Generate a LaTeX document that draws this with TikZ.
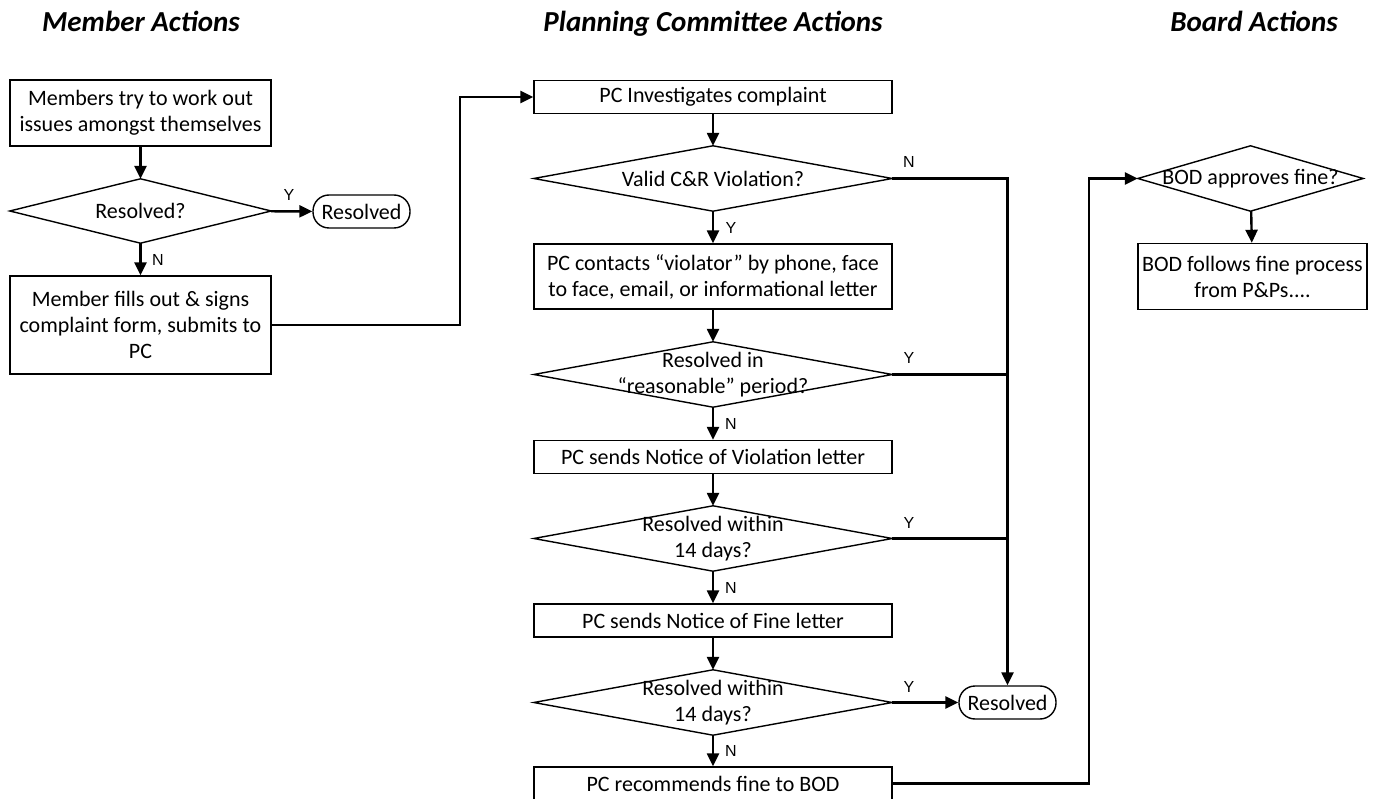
\documentclass[tikz,border=0pt]{standalone}
\usepackage{fontspec}
\setmainfont{Carlito}
\newfontfamily\labelfont{Liberation Sans}
\usetikzlibrary{arrows.meta}
\tikzset{
  box/.style={draw, line width=1.4pt, inner sep=2pt, align=center,
    font=\fontsize{22}{26}\selectfont},
  process/.style={box, minimum width=358pt, minimum height=33pt},
  decision/.style={inner sep=0pt, align=center, minimum width=358pt,
    minimum height=65pt, font=\fontsize{22}{26}\selectfont},
  terminal/.style={box, rounded corners=16pt, minimum width=97pt, minimum height=33pt},
  flow/.style={line width=2.4pt, -{Triangle[length=13pt,width=12pt]}},
  link/.style={line width=2.4pt},
  yn/.style={font=\labelfont\fontsize{16}{16}\selectfont},
  heading/.style={anchor=base, font=\fontsize{29}{31}\selectfont\bfseries\itshape}
}
\begin{document}
\begin{tikzpicture}[x=1pt,y=-1pt]
      \useasboundingbox (0,0) rectangle (1377,799);
      \node[heading] (hm) at (141,32) {Member Actions};
      \node[heading] (hp) at (713,32) {Planning Committee Actions};
      \node[heading] (hb) at (1254,32) {Board Actions};

      \node[box, minimum width=261pt, minimum height=66pt] (m1) at (140.5,113)
        {Members try to work out\\issues amongst themselves};
      \node[decision, minimum width=261pt, minimum height=64pt] (d1) at (140.5,211) {Resolved?};
      \node[terminal] (r1) at (361.5,211.5) {Resolved};
      \node[box, minimum width=261pt, minimum height=98pt] (m2) at (140.5,325)
        {Member fills out \& signs\\complaint form, submits to\\PC};

      \node[process] (p1) at (713,97) {PC Investigates complaint};
      \node[decision] (d2) at (713,178.5) {Valid C\&R Violation?};
      \node[process, minimum height=65pt] (p2) at (713,276.5)
        {PC contacts “violator” by phone, face\\to face, email, or informational letter};
      \node[decision] (d3) at (713,374.5) {Resolved in\\“reasonable” period?};
      \node[process] (p3) at (713,457) {PC sends Notice of Violation letter};
      \node[decision] (d4) at (713,538.5) {Resolved within\\14 days?};
      \node[process] (p4) at (713,620.5) {PC sends Notice of Fine letter};
      \node[decision] (d5) at (713,702.5) {Resolved within\\14 days?};
      \node[process] (p5) at (713,783.5) {PC recommends fine to BOD};
      \node[terminal] (r2) at (1007.5,702.5) {Resolved};

      \node[decision, minimum width=225pt] (d6) at (1250.5,178.5) {BOD approves fine?};
      \node[box, minimum width=229pt, minimum height=66pt] (b1) at (1252.5,276.5)
        {BOD follows fine process\\from P\&Ps....};

      \foreach \d in {d1,d2,d3,d4,d5,d6}
        \draw[line width=1.4pt] (\d.west) -- (\d.north) -- (\d.east) -- (\d.south) -- cycle;

      \coordinate (bendm) at (460,325);
      \coordinate (bendp) at (1089,783.5);
      \begin{scope}[flow]
        \draw (m1) to (d1);
        \draw (d1) to (r1);
        \draw (d1) to (m2);
        \draw (m2.east) -- (bendm) |- (p1.west);
        \draw (p1) to (d2);
        \draw (d2) to (p2);
        \draw (p2) to (d3);
        \draw (d3) to (p3);
        \draw (p3) to (d4);
        \draw (d4) to (p4);
        \draw (p4) to (d5);
        \draw (d5) to (p5);
        \draw (d2.east) -| (r2.north);
        \draw (d5.east) -- (r2.west);
        \draw (p5.east) -- (bendp) |- (d6.west);
        \draw (d6) to (b1);
      \end{scope}
      \begin{scope}[link]
        \draw (d3.east) -- (d3.east -| r2.north);
        \draw (d4.east) -- (d4.east -| r2.north);
      \end{scope}

      \node[yn] (y1) at (289,195) {Y};
      \node[yn] (n1) at (158,260) {N};
      \node[yn] (n2) at (909,162) {N};
      \node[yn] (y2) at (731,228) {Y};
      \node[yn] (y3) at (909,358) {Y};
      \node[yn] (n3) at (731,424) {N};
      \node[yn] (y4) at (909,523) {Y};
      \node[yn] (n4) at (731,588) {N};
      \node[yn] (y5) at (909,687) {Y};
      \node[yn] (n5) at (731,751) {N};
    \end{tikzpicture}
\end{document}
